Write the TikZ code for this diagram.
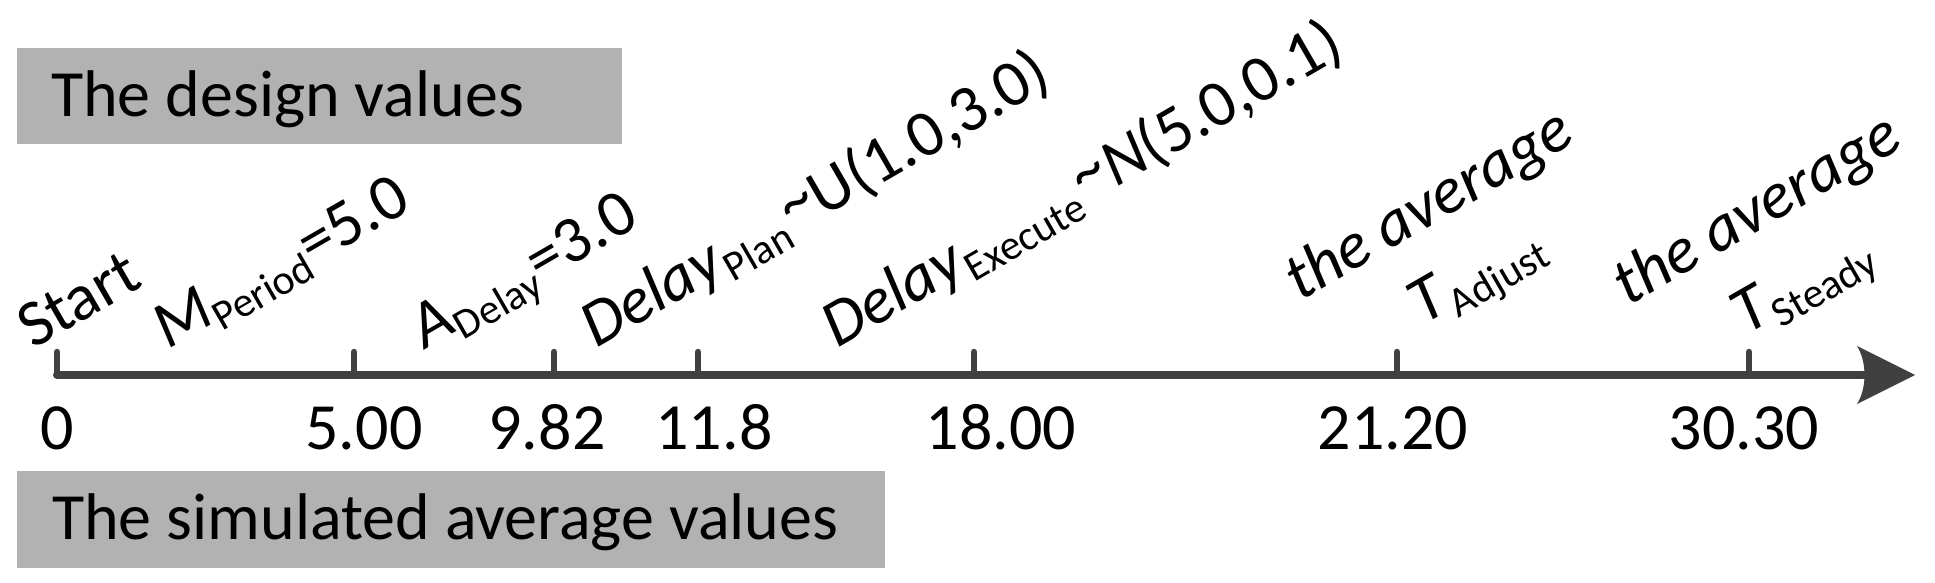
\documentclass[tikz,border=0pt]{standalone}
\usepackage{fontspec}
\setmainfont{Carlito}
\definecolor{boxgray}{RGB}{178,178,178}
\definecolor{axisgray}{RGB}{64,64,64}
\newcommand{\subtxt}[1]{\raisebox{-11pt}{\fontsize{42}{42}\selectfont\upshape #1}}
\newcommand{\tld}{\raisebox{8pt}{\textasciitilde}}
\begin{document}
\begin{tikzpicture}[x=1pt,y=-1pt,
  big/.style={font=\fontsize{66}{79}\selectfont, inner sep=0pt, text=black},
  rlabel/.style={big, rotate=30, anchor=base west},
  tlabel/.style={big, anchor=base},
  boxtext/.style={big, anchor=base west},
  tickline/.style={draw=axisgray, line width=6.5pt, line cap=round},
  axisline/.style={draw=axisgray, line width=8pt, line cap=round},
  graybox/.style={fill=boxgray, draw=none, inner sep=0pt, anchor=north west}]
\useasboundingbox (0,0) rectangle (1935,582);

% boxes
\node[graybox, minimum width=605pt, minimum height=96pt] (designbox) at (17,48) {};
\node[boxtext] (designtext) at (51,116) {The design values};
\node[graybox, minimum width=868pt, minimum height=97pt] (simbox) at (17,471) {};
\node[boxtext] (simtext) at (52,539) {The simulated average values};

% axis
\coordinate (origin) at (57,375);
\coordinate (axisend) at (1864,375);
\draw[axisline] (origin) -- (axisend);
\fill[axisgray] (1915,375) -- (1857,346) .. controls (1867,362) and (1867,388) .. (1857,404) -- cycle;

% ticks
\coordinate (tk0) at (57,375);
\coordinate (tk1) at (354,375);
\coordinate (tk2) at (554,375);
\coordinate (tk3) at (698,375);
\coordinate (tk4) at (974,375);
\coordinate (tk5) at (1397,375);
\coordinate (tk6) at (1749,375);
\foreach \t in {tk0,tk1,tk2,tk3,tk4,tk5,tk6}{
  \draw[tickline] (\t) -- ++(0,-23);
}

% tick labels
\node[tlabel] (l0) at (57,449) {0};
\node[tlabel] (l1) at (364,449) {5.00};
\node[tlabel] (l2) at (547,449) {9.82};
\node[tlabel] (l3) at (714,449) {11.8};
\node[tlabel] (l4) at (1001,449) {18.00};
\node[tlabel] (l5) at (1393,449) {21.20};
\node[tlabel] (l6) at (1744,449) {30.30};

% rotated labels
\node[rlabel] (start) at (33,350) {Start};
\node[rlabel] (mperiod) at (168,350) {\textit{M}\subtxt{Period}=5.0};
\node[rlabel] (adelay) at (425,350) {\textit{A}\subtxt{Delay}=3.0};
\node[rlabel] (dplan) at (596,349) {\textit{Delay}\subtxt{Plan}\hspace{4pt}\tld U(1.0,3.0)};
\node[rlabel] (dexec) at (837,349) {\textit{Delay}\subtxt{Execute}\hspace{4pt}\tld\textit{N}(5.0,0.1)};
\node[rlabel] (avg1) at (1300,302) {\textit{the average}};
\node[rlabel] (tadj) at (1423,326) {\textit{T}\subtxt{Adjust}};
\node[rlabel] (avg2) at (1628,307) {\textit{the average}};
\node[rlabel] (tsteady) at (1746,336) {\textit{T}\subtxt{Steady}};
\end{tikzpicture}
\end{document}
